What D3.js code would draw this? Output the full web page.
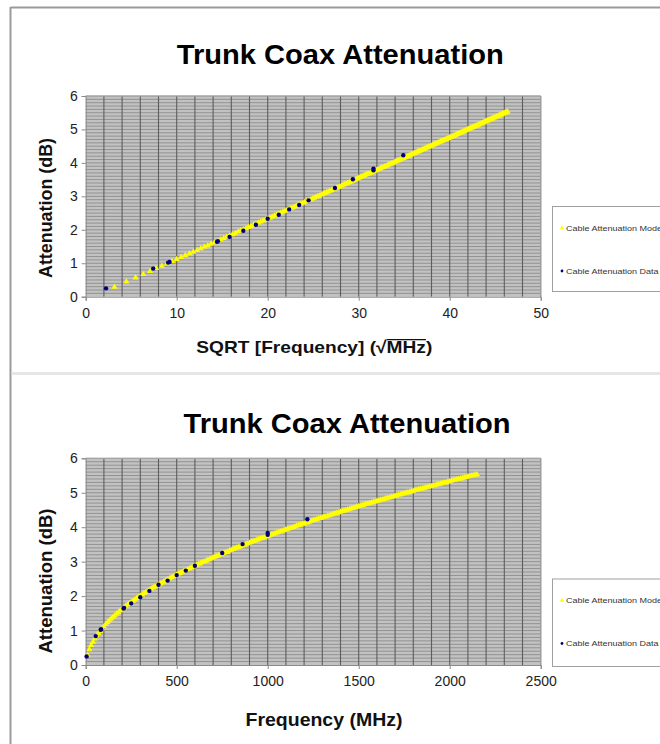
<!DOCTYPE html>
<html>
<head>
<meta charset="utf-8">
<script src="https://cdn.jsdelivr.net/npm/d3@7"></script>
<style>
  html, body { margin: 0; padding: 0; background: #fff; }
  svg { display: block; }
  text { font-family: Arial, "Liberation Sans", sans-serif; }
</style>
</head>
<body>
<svg id="chart" width="660" height="744"></svg>
<script>
// Attenuation model, sampled every 10 MHz
const modelFreqMHz = [
  10, 20, 30, 40, 50, 60, 70, 80, 90, 100, 110, 120, 130, 140, 150, 160, 170, 180, 190, 200,
  210, 220, 230, 240, 250, 260, 270, 280, 290, 300, 310, 320, 330, 340, 350, 360, 370, 380, 390, 400,
  410, 420, 430, 440, 450, 460, 470, 480, 490, 500, 510, 520, 530, 540, 550, 560, 570, 580, 590, 600,
  610, 620, 630, 640, 650, 660, 670, 680, 690, 700, 710, 720, 730, 740, 750, 760, 770, 780, 790, 800,
  810, 820, 830, 840, 850, 860, 870, 880, 890, 900, 910, 920, 930, 940, 950, 960, 970, 980, 990, 1000,
  1010, 1020, 1030, 1040, 1050, 1060, 1070, 1080, 1090, 1100, 1110, 1120, 1130, 1140, 1150, 1160, 1170, 1180, 1190, 1200,
  1210, 1220, 1230, 1240, 1250, 1260, 1270, 1280, 1290, 1300, 1310, 1320, 1330, 1340, 1350, 1360, 1370, 1380, 1390, 1400,
  1410, 1420, 1430, 1440, 1450, 1460, 1470, 1480, 1490, 1500, 1510, 1520, 1530, 1540, 1550, 1560, 1570, 1580, 1590, 1600,
  1610, 1620, 1630, 1640, 1650, 1660, 1670, 1680, 1690, 1700, 1710, 1720, 1730, 1740, 1750, 1760, 1770, 1780, 1790, 1800,
  1810, 1820, 1830, 1840, 1850, 1860, 1870, 1880, 1890, 1900, 1910, 1920, 1930, 1940, 1950, 1960, 1970, 1980, 1990, 2000,
  2010, 2020, 2030, 2040, 2050, 2060, 2070, 2080, 2090, 2100, 2110, 2120, 2130, 2140, 2150
];
const modelAttenDb = [
  0.29, 0.45, 0.57, 0.67, 0.76, 0.85, 0.92, 0.99, 1.06, 1.12, 1.18, 1.24, 1.29, 1.34, 1.39, 1.44, 1.49, 1.53, 1.58, 1.62,
  1.66, 1.71, 1.75, 1.79, 1.83, 1.86, 1.90, 1.94, 1.97, 2.01, 2.04, 2.08, 2.11, 2.14, 2.18, 2.21, 2.24, 2.27, 2.30, 2.33,
  2.36, 2.39, 2.42, 2.45, 2.48, 2.51, 2.54, 2.56, 2.59, 2.62, 2.65, 2.67, 2.70, 2.73, 2.75, 2.78, 2.80, 2.83, 2.85, 2.88,
  2.90, 2.93, 2.95, 2.98, 3.00, 3.02, 3.05, 3.07, 3.09, 3.12, 3.14, 3.16, 3.18, 3.21, 3.23, 3.25, 3.27, 3.29, 3.32, 3.34,
  3.36, 3.38, 3.40, 3.42, 3.44, 3.46, 3.48, 3.51, 3.53, 3.55, 3.57, 3.59, 3.61, 3.63, 3.65, 3.67, 3.68, 3.70, 3.72, 3.74,
  3.76, 3.78, 3.80, 3.82, 3.84, 3.86, 3.87, 3.89, 3.91, 3.93, 3.95, 3.97, 3.98, 4.00, 4.02, 4.04, 4.06, 4.07, 4.09, 4.11,
  4.13, 4.14, 4.16, 4.18, 4.20, 4.21, 4.23, 4.25, 4.26, 4.28, 4.30, 4.31, 4.33, 4.35, 4.36, 4.38, 4.40, 4.41, 4.43, 4.45,
  4.46, 4.48, 4.49, 4.51, 4.53, 4.54, 4.56, 4.57, 4.59, 4.61, 4.62, 4.64, 4.65, 4.67, 4.68, 4.70, 4.71, 4.73, 4.74, 4.76,
  4.77, 4.79, 4.80, 4.82, 4.83, 4.85, 4.86, 4.88, 4.89, 4.91, 4.92, 4.94, 4.95, 4.97, 4.98, 5.00, 5.01, 5.02, 5.04, 5.05,
  5.07, 5.08, 5.10, 5.11, 5.12, 5.14, 5.15, 5.17, 5.18, 5.19, 5.21, 5.22, 5.24, 5.25, 5.26, 5.28, 5.29, 5.30, 5.32, 5.33,
  5.35, 5.36, 5.37, 5.39, 5.40, 5.41, 5.43, 5.44, 5.45, 5.47, 5.48, 5.49, 5.51, 5.52, 5.53
];

// Measured cable attenuation
const dataFreqMHz = [5, 55, 82, 85, 208, 211, 250, 300, 350, 400, 450, 500, 550, 600, 750, 862, 1000, 1000, 1218];
const dataAttenDb = [0.25, 0.84, 1.02, 1.04, 1.64, 1.66, 1.79, 1.97, 2.15, 2.33, 2.45, 2.61, 2.74, 2.88, 3.25, 3.51, 3.78, 3.83, 4.23];

// Labels
const chartTitle = "Trunk Coax Attenuation";
const yAxisTitle = "Attenuation (dB)";
const seriesNames = ["Cable Attenuation Model", "Cable Attenuation Data"];
const yTickValues = [0, 1, 2, 3, 4, 5, 6];
const sqrtTickValues = [0, 10, 20, 30, 40, 50];
const freqTickValues = [0, 500, 1000, 1500, 2000, 2500];

const model = modelFreqMHz.map((f, i) => ({ f, a: modelAttenDb[i] }));
const measured = dataFreqMHz.map((f, i) => ({ f, a: dataAttenDb[i] }));

const svg = d3.select("#chart");

// Page frame: outer border and divider between the two charts
svg.append("line").attr("x1", 10.5).attr("x2", 660).attr("y1", 7.5).attr("y2", 7.5)
  .attr("stroke", "#9a9a9a").attr("stroke-width", 2);
svg.append("line").attr("x1", 10.5).attr("x2", 10.5).attr("y1", 7).attr("y2", 744)
  .attr("stroke", "#9a9a9a").attr("stroke-width", 2);
svg.append("rect").attr("x", 11.5).attr("y", 372).attr("width", 650).attr("height", 3)
  .attr("fill", "#e6e6e6");

function drawPanel(cfg) {
  const g = svg.append("g");
  const x = d3.scaleLinear().domain(cfg.xDomain).range([85.7, 540.7]);
  const y = d3.scaleLinear().domain([0, 6]).range([cfg.bottom, cfg.top]);

  // plot area
  g.append("rect")
    .attr("x", x.range()[0]).attr("y", cfg.top)
    .attr("width", x.range()[1] - x.range()[0]).attr("height", cfg.bottom - cfg.top)
    .attr("fill", "#c2c2c2");

  // horizontal minor grid every 0.1 dB
  g.append("g").selectAll("line").data(y.ticks(60).filter(v => v > 0))
    .join("line")
    .attr("x1", x.range()[0]).attr("x2", x.range()[1])
    .attr("y1", d => y(d)).attr("y2", d => y(d))
    .attr("stroke", "#8c8c8c").attr("stroke-width", 0.9);

  // vertical grid
  g.append("g").selectAll("line").data(x.ticks(25).filter(v => v > cfg.xDomain[0]))
    .join("line")
    .attr("x1", d => x(d)).attr("x2", d => x(d))
    .attr("y1", cfg.top).attr("y2", cfg.bottom)
    .attr("stroke", "#5e5e5e").attr("stroke-width", 1.1);

  // plot border top/right
  g.append("path")
    .attr("d", `M${x.range()[0]},${cfg.top}H${x.range()[1]}V${cfg.bottom}`)
    .attr("fill", "none").attr("stroke", "#a8a8a8").attr("stroke-width", 1);

  // axes
  const yAxis = d3.axisLeft(y).tickValues(yTickValues).tickSize(4).tickPadding(4).tickFormat(d3.format("d"));
  const xAxis = d3.axisBottom(x).tickValues(cfg.xTicks).tickSize(4).tickPadding(7).tickFormat(d3.format("d"));
  const ya = g.append("g").attr("transform", `translate(${x.range()[0]},0)`).call(yAxis);
  const xa = g.append("g").attr("transform", `translate(0,${cfg.bottom})`).call(xAxis);
  [ya, xa].forEach(a => {
    a.select(".domain").attr("stroke", "#8a8a8a");
    a.selectAll(".tick line").attr("stroke", "#8a8a8a");
    a.selectAll(".tick text").attr("fill", "#222").style("font-size", "14px")
      .style("font-family", "Arial, 'Liberation Sans', sans-serif");
  });

  const fx = cfg.xValue;

  // model series (yellow triangles)
  g.append("g").selectAll("path").data(model).join("path")
    .attr("transform", d => `translate(${x(fx(d.f))},${y(d.a)})`)
    .attr("d", d3.symbol(d3.symbolTriangle, 16)())
    .attr("fill", "#ffff00");

  // measured series (navy dots)
  g.append("g").selectAll("path").data(measured).join("path")
    .attr("transform", d => `translate(${x(fx(d.f))},${y(d.a)})`)
    .attr("d", d3.symbol(d3.symbolCircle, 15)())
    .attr("fill", "#00007a");

  // title
  g.append("text")
    .attr("x", cfg.titleX).attr("y", cfg.titleY)
    .attr("text-anchor", "middle")
    .attr("textLength", 327).attr("lengthAdjust", "spacingAndGlyphs")
    .style("font-size", "27px").style("font-weight", "bold").attr("fill", "#000")
    .text(chartTitle);

  // y title
  g.append("text")
    .attr("transform", `translate(52,${cfg.yTitleY}) rotate(-90)`)
    .attr("text-anchor", "middle")
    .attr("textLength", cfg.yTitleLen).attr("lengthAdjust", "spacingAndGlyphs")
    .style("font-size", "18px").style("font-weight", "bold").attr("fill", "#111")
    .text(yAxisTitle);

  // x title
  const xt = g.append("text")
    .attr("x", cfg.xTitleX).attr("y", cfg.xTitleY)
    .attr("text-anchor", "middle")
    .attr("textLength", cfg.xTitleLen).attr("lengthAdjust", "spacingAndGlyphs")
    .style("font-size", cfg.xTitleSize).style("font-weight", "bold").attr("fill", "#111")
    .text(cfg.xTitle);
  if (cfg.overline) {
    const node = xt.node();
    const s = cfg.xTitle.indexOf("MHz");
    const a = node.getExtentOfChar(s);
    const b = node.getExtentOfChar(s + 2);
    g.append("line")
      .attr("x1", a.x).attr("x2", b.x + b.width)
      .attr("y1", a.y + 2).attr("y2", a.y + 2)
      .attr("stroke", "#111").attr("stroke-width", 1.3);
  }

  // legend
  const lg = g.append("g");
  lg.append("rect")
    .attr("x", 552.5).attr("y", cfg.legendTop)
    .attr("width", 120).attr("height", cfg.legendH)
    .attr("fill", "#fff").attr("stroke", "#a0a0a0").attr("stroke-width", 1);
  const items = [
    { name: seriesNames[0], y: cfg.legendTop + 21.5, sym: d3.symbolTriangle, color: "#ffff00", size: 9 },
    { name: seriesNames[1], y: cfg.legendTop + 64.5, sym: d3.symbolCircle, color: "#00007a", size: 6 }
  ];
  items.forEach(it => {
    lg.append("path")
      .attr("transform", `translate(562,${it.y})`)
      .attr("d", d3.symbol(it.sym, it.size)())
      .attr("fill", it.color);
    lg.append("text")
      .attr("x", 566).attr("y", it.y).attr("dy", "0.35em")
      .attr("textLength", it.name.endsWith("Model") ? 98 : 92.6)
      .attr("lengthAdjust", "spacingAndGlyphs")
      .style("font-size", "8px").attr("fill", "#333")
      .text(it.name);
  });
}

drawPanel({
  xDomain: [0, 50], xTicks: sqrtTickValues, xValue: f => Math.sqrt(f),
  top: 96, bottom: 296.7,
  titleX: 340.3, titleY: 63.5,
  yTitleY: 208, yTitleLen: 140,
  xTitle: "SQRT [Frequency] (\u221AMHz)", xTitleX: 314.3, xTitleY: 352.7, xTitleLen: 236, xTitleSize: "17px",
  overline: true,
  legendTop: 206.5, legendH: 85
});

drawPanel({
  xDomain: [0, 2500], xTicks: freqTickValues, xValue: f => f,
  top: 458.3, bottom: 665,
  titleX: 347, titleY: 433,
  yTitleY: 581, yTitleLen: 145,
  xTitle: "Frequency (MHz)", xTitleX: 324, xTitleY: 726, xTitleLen: 157, xTitleSize: "19px",
  overline: false,
  legendTop: 579, legendH: 87.5
});
</script>
</body>
</html>
